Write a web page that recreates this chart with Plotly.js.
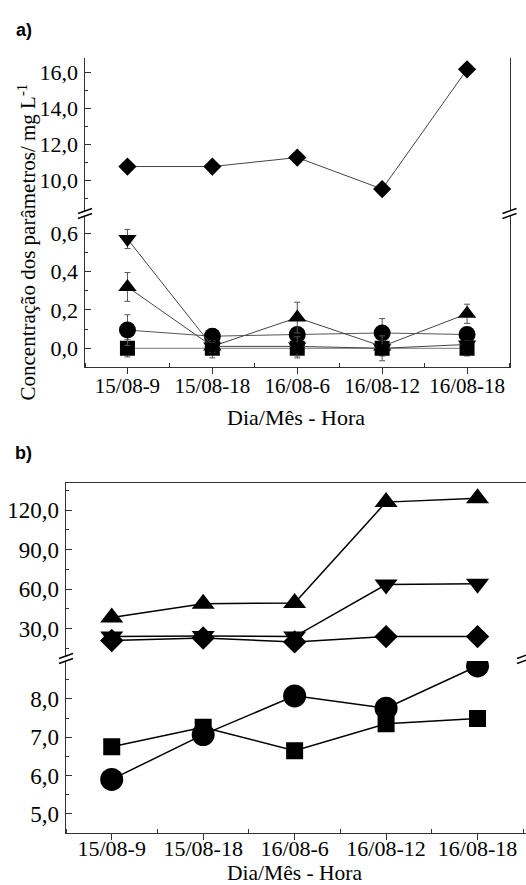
<!DOCTYPE html>
<html>
<head>
<meta charset="utf-8">
<script src="https://cdn.plot.ly/plotly-3.0.1.min.js"></script>
<style>html,body{margin:0;padding:0;background:#fff;}#chart{width:526px;height:885px;}</style>
</head>
<body>
<div id="chart"></div>
<script>
// ---------- data ----------
const categories = ['15/08-9', '15/08-18', '16/08-6', '16/08-12', '16/08-18'];

// panel a (upper break)
const a_diamond = [10.75, 10.75, 11.25, 9.5, 16.15];
// panel a (lower break)
const a_downTri    = [0.57, 0.01, 0.01, 0.0, 0.02];
const a_downTriErr = [0.05, 0.02, 0.05, 0.065, 0.02];
const a_upTri      = [0.32, 0.01, 0.16, 0.01, 0.18];
const a_upTriErr   = [0.075, 0.03, 0.08, 0.03, 0.05];
const a_circle     = [0.095, 0.063, 0.072, 0.08, 0.072];
const a_circleErr  = [0.08, 0.04, 0.03, 0.075, 0.03];
const a_square     = [0, 0, 0, 0, 0];
const a_squareErr  = [0.045, 0.05, 0.05, 0.04, 0.04];

// panel b (upper break)
const b_upTri   = [38.5, 49, 49.5, 126, 129];
const b_downTri = [24, 24.5, 24, 63.5, 64];
const b_diamond = [21, 23, 20, 24, 24];
// panel b (lower break)
const b_circle  = [5.9, 7.07, 8.08, 7.76, 8.86];
const b_square  = [6.75, 7.26, 6.65, 7.35, 7.49];

// ---------- helpers ----------
const W = 526, H = 885;
const X = px => px / W;
const Y = py => 1 - py / H;
const xi = categories.map((_, i) => i);
const SERIF = "'Liberation Serif', 'Times New Roman', serif";
const SANS = "'Liberation Sans', Arial, sans-serif";

function tr(y, sym, size, xa, ya, lineColor, lineW, err) {
  const t = {
    x: xi, y: y, xaxis: xa, yaxis: ya, type: 'scatter', mode: 'lines+markers',
    line: {color: lineColor, width: lineW},
    marker: {symbol: sym, size: size, color: '#000'},
    hoverinfo: 'skip', showlegend: false
  };
  if (err) t.error_y = {type: 'data', array: err, visible: true, color: '#555', thickness: 1, width: 3};
  return t;
}

const data = [
  tr(a_diamond, 'diamond', 14, 'x', 'y', '#444', 1),
  tr(a_square, 'square', 15, 'x2', 'y2', '#777', 1, a_squareErr),
  tr(a_circle, 'circle', 17, 'x2', 'y2', '#555', 1, a_circleErr),
  tr(a_upTri, 'triangle-up', 16, 'x2', 'y2', '#444', 1, a_upTriErr),
  tr(a_downTri, 'triangle-down', 16, 'x2', 'y2', '#444', 1, a_downTriErr),
  tr(b_diamond, 'diamond', 18, 'x3', 'y3', '#000', 1.5),
  tr(b_downTri, 'triangle-down', 20, 'x3', 'y3', '#000', 1.5),
  tr(b_upTri, 'triangle-up', 20, 'x3', 'y3', '#000', 1.5),
  tr(b_square, 'square', 17, 'x4', 'y4', '#000', 1.5),
  tr(b_circle, 'circle', 23, 'x4', 'y4', '#000', 1.5)
];

const axisLine = '#333';
function yAx(dom, range, dtick, minorD, fs, mirror) {
  return {
    domain: [Y(dom[1]), Y(dom[0])], range: range, tick0: 0, dtick: dtick,
    tickformat: '.1f', ticks: 'inside', ticklen: 6, tickwidth: 1, tickcolor: axisLine,
    minor: {dtick: minorD, ticks: 'inside', ticklen: 3, tickwidth: 1, tickcolor: axisLine, showgrid: false},
    showline: true, linecolor: axisLine, linewidth: 1.5, mirror: mirror,
    showgrid: false, zeroline: false, ticklabelstandoff: 1,
    tickfont: {family: SERIF, size: fs, color: '#000'}, fixedrange: true
  };
}
function xAx(dom, range, fs, anchor, standoff) {
  return {
    domain: [X(dom[0]), X(dom[1])], range: range, anchor: anchor,
    tickmode: 'array', tickvals: xi, ticktext: categories,
    ticks: 'outside', ticklen: 6, tickwidth: 1, tickcolor: axisLine,
    minor: {tickmode: 'linear', tick0: -0.5, dtick: 1, ticks: 'inside', ticklen: 4, tickwidth: 1, tickcolor: axisLine},
    showline: true, linecolor: axisLine, linewidth: 1.5,
    showgrid: false, zeroline: false, ticklabelstandoff: standoff,
    tickfont: {family: SERIF, size: fs, color: '#000'}, fixedrange: true
  };
}

const xa = [85, 509.5];
const xb = [66, 526];

function ann(text, px, py, size, family, angle) {
  return {text: text, xref: 'paper', yref: 'paper', x: X(px), y: Y(py),
          xanchor: 'center', yanchor: 'middle', showarrow: false, textangle: angle || 0,
          font: {family: family, size: size, color: '#000'}};
}

const layout = {
  width: W, height: H,
  margin: {l: 0, r: 0, t: 0, b: 0},
  paper_bgcolor: '#fff', plot_bgcolor: 'rgba(0,0,0,0)',
  font: {family: SERIF, size: 21, color: '#000'},
  separators: ', ',
  showlegend: false,
  xaxis: {domain: [X(xa[0]), X(xa[1])], range: [-0.5, 4.5], anchor: 'y', visible: false, fixedrange: true},
  yaxis: Object.assign(yAx([58, 211], [8.28, 16.78], 2, 1, 22, true), {anchor: 'x'}),
  xaxis2: xAx(xa, [-0.5, 4.5], 21, 'y2', -6),
  yaxis2: Object.assign(yAx([216, 366.7], [-0.096, 0.69], 0.2, 0.1, 22, true), {anchor: 'x2'}),
  xaxis3: {domain: [X(xb[0]), X(xb[1])], range: [-0.5, 4.53], anchor: 'y3', side: 'top',
           showline: true, linecolor: axisLine, linewidth: 1.5, ticks: '', showticklabels: false,
           showgrid: false, zeroline: false, fixedrange: true},
  yaxis3: Object.assign(yAx([483, 656], [9.3, 140.5], 30, 15, 23, false), {anchor: 'x3'}),
  xaxis4: xAx(xb, [-0.5, 4.53], 22, 'y4', -11),
  yaxis4: Object.assign(yAx([661, 832.7], [4.51, 8.99], 1, 0.5, 23, false), {anchor: 'x4'}),
  annotations: [
    ann('<b>a)</b>', 24, 30, 18, SANS),
    ann('<b>b)</b>', 23, 453, 18, SANS),
    ann('Concentração dos parâmetros/ mg L<sup>-1</sup>', 26.5, 242, 21, SERIF, -90),
    ann('Dia/Mês - Hora', 296, 418, 22, SERIF),
    ann('Dia/Mês - Hora', 294.5, 873, 21.5, SERIF)
  ],
  shapes: []
};

function breakMark(x0, yc) {
  const h = 7, d = 2.5;
  [-d, d].forEach(off => {
    layout.shapes.push({type: 'line', xref: 'paper', yref: 'paper',
      x0: X(x0 - h), y0: Y(yc + off + 2.5), x1: X(x0 + h), y1: Y(yc + off - 2.5),
      line: {color: '#000', width: 1.5}});
  });
}
breakMark(85, 213.5);
breakMark(509.5, 213.5);
breakMark(66, 658.5);
breakMark(524, 658.5);

Plotly.newPlot('chart', data, layout, {staticPlot: true, displayModeBar: false});
</script>
</body>
</html>
